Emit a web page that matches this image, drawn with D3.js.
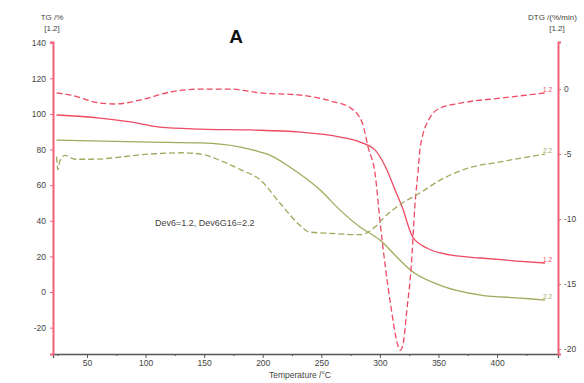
<!DOCTYPE html>
<html>
<head>
<meta charset="utf-8">
<script src="https://cdn.jsdelivr.net/npm/d3@7"></script>
<style>
  body { margin: 0; background: #fff; }
  svg { display: block; font-family: "Liberation Sans", Arial, sans-serif; }
</style>
</head>
<body>
<div id="chart"></div>
<script>
// TG curves (left axis, %)
const tgTemp1 = [24, 61, 87, 112, 147, 189, 232, 266, 283, 296, 304, 313, 319, 328, 340, 360, 386, 417, 441];
const tgDev6 = [99.4, 97.7, 95.5, 92.6, 91.5, 91, 89.8, 87, 84.2, 79.7, 71.3, 57.3, 47.7, 30.9, 24.7, 20.8, 19.1, 17.4, 16.3];

const tgTemp2 = [24, 104, 147, 181, 198, 206, 223, 249, 266, 283, 300, 317, 326, 351, 386, 420, 441];
const tgDev6G16 = [85.3, 84.2, 83.7, 81.4, 78.6, 76.9, 70.2, 57.3, 46, 36.5, 29.2, 18, 12.4, 3.9, -1.7, -3.4, -4.5];

// DTG curves (right axis, %/min)
const dtgTemp1 = [24, 36, 61, 74, 95, 121, 147, 172, 198, 232, 258, 275, 285, 290, 296, 300, 309, 315.6, 317.3, 320, 323, 326.7, 330, 332.7, 334.4, 343, 351.5, 368.6, 402.7, 441];
const dtgDev6 = [-0.3, -0.46, -1.08, -1.15, -0.85, -0.23, 0, 0, -0.3, -0.46, -0.92, -1.46, -2.6, -4.5, -6.6, -10.1, -16.5, -19.8, -20.1, -19.5, -17, -13.7, -8.8, -6.2, -4.5, -2.15, -1.46, -1.08, -0.7, -0.3];

const dtgTemp2 = [24, 25.3, 27, 31, 40, 53, 104, 130, 147, 164, 181, 198, 215, 232, 240, 258, 283, 296, 304.5, 317, 334, 351.5, 374.5, 402.7, 441];
const dtgDev6G16 = [-5.2, -6.2, -5.5, -5.1, -5.4, -5.4, -5.0, -4.9, -5.0, -5.5, -6.2, -7.0, -8.8, -10.5, -11.0, -11.1, -11.2, -10.6, -9.8, -8.9, -8.0, -7.0, -6.1, -5.6, -5.0];

const xTicks = [50, 100, 150, 200, 250, 300, 350, 400];
const xMinorTicks = [25, 75, 125, 175, 225, 275, 325, 375, 425];
const tgTicks = [140, 120, 100, 80, 60, 40, 20, 0, -20];
const dtgTicks = [0, -5, -10, -15, -20];

const width = 584, height = 383;
const plot = { left: 53, right: 558, top: 42, bottom: 354 };
const red = '#ee4a62', olive = '#a3a85c', axisRed = '#f2607a';
const plain = d => String(d);  // hyphen minus like the original

const svg = d3.select('#chart').append('svg')
    .attr('width', width)
    .attr('height', height);

const x = d3.scaleLinear().domain([21, 452]).range([plot.left, plot.right]);
const yTG = d3.scaleLinear().domain([-34.8, 140.4]).range([plot.bottom, plot.top]);
const yDTG = d3.scaleLinear().domain([-20.38, 3.62]).range([plot.bottom, plot.top]);

// bottom axis
svg.append('g')
    .attr('transform', `translate(0,${plot.bottom})`)
    .call(d3.axisBottom(x).tickValues(xMinorTicks).tickSize(2).tickFormat(''))
    .call(g => g.select('.domain').remove())
    .call(g => g.selectAll('line').attr('stroke', '#555'));

const xAxis = svg.append('g')
    .attr('transform', `translate(0,${plot.bottom})`)
    .call(d3.axisBottom(x).tickValues(xTicks).tickSize(4).tickPadding(2).tickFormat(plain));
xAxis.select('.domain').attr('stroke', '#555').attr('stroke-width', 1.3);
xAxis.selectAll('line').attr('stroke', '#555');
xAxis.selectAll('text').attr('font-size', 8.5).attr('fill', '#444');

// left axis
const yLeft = svg.append('g')
    .attr('transform', `translate(${plot.left},0)`)
    .call(d3.axisLeft(yTG).tickValues(tgTicks).tickSize(3).tickPadding(4).tickFormat(plain));
yLeft.select('.domain').attr('stroke', axisRed).attr('stroke-width', 2);
yLeft.selectAll('line').attr('stroke', axisRed);
yLeft.selectAll('text').attr('font-size', 8.5).attr('fill', '#444');

// right axis
const yRight = svg.append('g')
    .attr('transform', `translate(${plot.right},0)`)
    .call(d3.axisRight(yDTG).tickValues(dtgTicks).tickSize(3).tickPadding(3).tickFormat(plain));
yRight.select('.domain').attr('stroke', axisRed).attr('stroke-width', 2);
yRight.selectAll('line').attr('stroke', axisRed);
yRight.selectAll('text').attr('font-size', 8.5).attr('fill', '#444');

// curves
function drawCurve(temps, vals, yScale, color, dashed) {
    const pts = temps.map((t, i) => [t, vals[i]]);
    const line = d3.line()
        .x(d => x(d[0]))
        .y(d => yScale(d[1]))
        .curve(d3.curveMonotoneX);
    svg.append('path')
        .datum(pts)
        .attr('fill', 'none')
        .attr('stroke', color)
        .attr('stroke-width', 1.3)
        .attr('stroke-dasharray', dashed ? '6,3' : null)
        .attr('d', line);
    return pts[pts.length - 1];
}

const endTG1 = drawCurve(tgTemp1, tgDev6, yTG, red, false);
const endTG2 = drawCurve(tgTemp2, tgDev6G16, yTG, olive, false);
const endDTG1 = drawCurve(dtgTemp1, dtgDev6, yDTG, red, true);
const endDTG2 = drawCurve(dtgTemp2, dtgDev6G16, yDTG, olive, true);

// small curve labels at the right ends
[[endTG1, yTG, red, '1.2'], [endTG2, yTG, olive, '2.2'],
 [endDTG1, yDTG, red, '1.2'], [endDTG2, yDTG, olive, '2.2']].forEach(([p, ys, c, t]) => {
    svg.append('text')
        .attr('x', x(p[0]) - 2)
        .attr('y', ys(p[1]) - 1)
        .attr('font-size', 6.5)
        .attr('fill', c)
        .text(t);
});

// axis titles
svg.append('text').attr('x', 52).attr('y', 20).attr('text-anchor', 'middle')
    .attr('font-size', 8).attr('fill', '#444').text('TG /%');
svg.append('text').attr('x', 52).attr('y', 31).attr('text-anchor', 'middle')
    .attr('font-size', 8).attr('fill', '#444').text('[1.2]');
svg.append('text').attr('x', 528).attr('y', 20)
    .attr('font-size', 8).attr('fill', '#444').text('DTG /(%/min)');
svg.append('text').attr('x', 557).attr('y', 31).attr('text-anchor', 'middle')
    .attr('font-size', 8).attr('fill', '#444').text('[1.2]');
svg.append('text').attr('x', 300).attr('y', 378).attr('text-anchor', 'middle')
    .attr('font-size', 8.5).attr('fill', '#444').text('Temperature /°C');

// panel letter and annotation
svg.append('text').attr('x', 236).attr('y', 43).attr('text-anchor', 'middle')
    .attr('font-size', 19).attr('font-weight', 'bold').attr('fill', '#111').text('A');
svg.append('text').attr('x', 155).attr('y', 226)
    .attr('font-size', 9).attr('fill', '#444').text('Dev6=1.2, Dev6G16=2.2');
</script>
</body>
</html>
